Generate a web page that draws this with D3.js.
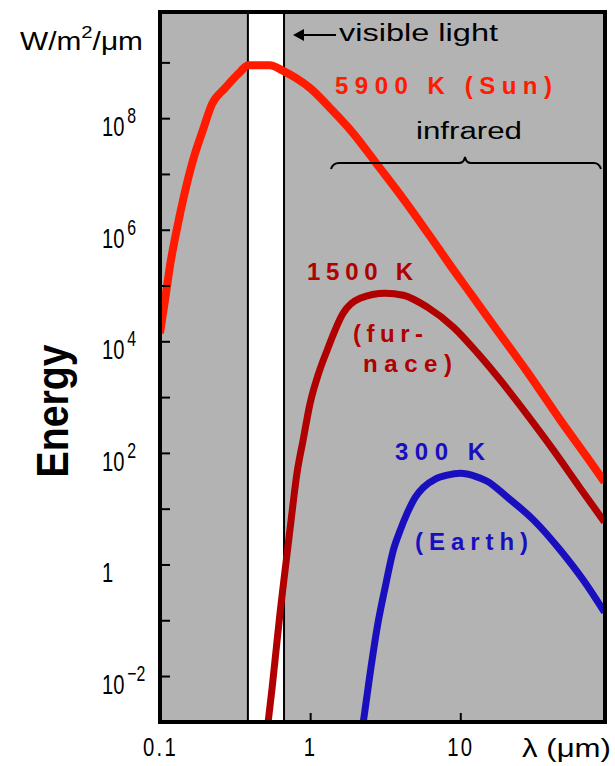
<!DOCTYPE html>
<html>
<head>
<meta charset="utf-8">
<script src="https://cdn.jsdelivr.net/npm/d3@7/dist/d3.min.js"></script>
<style>
body { margin: 0; background: #fff; }
text { font-family: "Liberation Sans", Arial, sans-serif; }
</style>
</head>
<body>
<script>
// wavelength in micrometres, energy in W/m2/um
var sunWave   = [0.1, 0.108, 0.117, 0.130, 0.145, 0.166, 0.193, 0.222, 0.271, 0.341, 0.386, 0.541, 0.651, 0.807, 1.0, 1.36, 1.93, 2.75, 4.23, 6.41, 8.58, 11.66, 16.6, 28.0, 46.4, 77.0, 91.2];
var sunEnergy = [1.4e4, 5.5e4, 2.4e5, 1.07e6, 4.2e6, 1.77e7, 6.1e7, 1.78e8, 3.45e8, 6.7e8, 8.9e8, 8.9e8, 7.2e8, 5.2e8, 3.45e8, 1.51e8, 5.4e7, 1.56e7, 3.4e6, 7.1e5, 2.3e5, 7.3e4, 1.95e4, 2.8e3, 387, 58, 30];

var furnaceWave   = [0.525, 0.558, 0.593, 0.631, 0.681, 0.736, 0.819, 0.898, 1.0, 1.13, 1.30, 1.66, 2.15, 3.16, 4.17, 6.03, 8.98, 13.0, 18.5, 28.0, 41.7, 63.1, 91.2];
var furnaceEnergy = [1.5e-3, 6.1e-3, 2.9e-2, 0.14, 0.79, 4.5, 45, 170, 780, 2.5e3, 7.0e3, 3.2e4, 5.9e4, 7.3e4, 6.7e4, 4.1e4, 1.8e4, 6.2e3, 2.0e3, 475, 112, 23, 5.8];

var earthWave   = [2.26, 2.51, 2.80, 3.16, 3.58, 3.98, 4.43, 5.01, 5.67, 6.81, 8.19, 10, 12.6, 15.1, 20.6, 30.7, 46.4, 66.1, 91.2];
var earthEnergy = [1.5e-3, 1.13e-2, 7.6e-2, 0.39, 1.8, 4.1, 8.3, 16, 24, 34, 40, 43, 38, 31, 16, 6.3, 1.8, 0.52, 0.14];

var visibleBand = [0.385, 0.67];
var yTicks = [1e-2, 1e-1, 1, 1e1, 1e2, 1e3, 1e4, 1e5, 1e6, 1e7, 1e8, 1e9];
var yLabelExps = [-2, 0, 2, 4, 6, 8];
var xTicks = [0.1, 1, 10];
var xTickLabels = ["0.1", "1", "10"];

var svg = d3.select("body").append("svg")
    .attr("width", 615)
    .attr("height", 766);

var x = d3.scaleLog().domain([0.1, 92]).range([160, 605]);
var y = d3.scaleLog().domain([1.5e-3, 8e9]).range([722, 12]);

// plot background
svg.append("rect")
    .attr("x", 160).attr("y", 12)
    .attr("width", 445).attr("height", 710)
    .attr("fill", "#b3b3b3");

// visible light band
svg.append("rect")
    .attr("x", x(visibleBand[0])).attr("y", 12)
    .attr("width", x(visibleBand[1]) - x(visibleBand[0]))
    .attr("height", 710)
    .attr("fill", "#fff");
svg.selectAll("line.band")
    .data(visibleBand)
    .enter().append("line")
    .attr("class", "band")
    .attr("x1", function(d) { return x(d); })
    .attr("x2", function(d) { return x(d); })
    .attr("y1", 12).attr("y2", 722)
    .attr("stroke", "#000").attr("stroke-width", 2);

svg.append("clipPath").attr("id", "plotclip")
    .append("rect").attr("x", 160).attr("y", 12).attr("width", 445).attr("height", 710);

var line = d3.line()
    .curve(d3.curveMonotoneX)
    .x(function(d) { return x(d[0]); })
    .y(function(d) { return y(d[1]); });

var curves = [
    {pts: d3.zip(sunWave, sunEnergy), color: "#ff1a00", w: 8},
    {pts: d3.zip(furnaceWave, furnaceEnergy), color: "#b00000", w: 7},
    {pts: d3.zip(earthWave, earthEnergy), color: "#1a0fbf", w: 7}
];

svg.append("g").attr("clip-path", "url(#plotclip)")
    .selectAll("path")
    .data(curves)
    .enter().append("path")
    .attr("d", function(d) { return line(d.pts); })
    .attr("fill", "none")
    .attr("stroke", function(d) { return d.color; })
    .attr("stroke-width", function(d) { return d.w; })
    .attr("stroke-linejoin", "round");

// ticks (inward)
var yAxis = svg.append("g")
    .attr("transform", "translate(160,0)")
    .call(d3.axisLeft(y).tickValues(yTicks).tickSize(-10).tickFormat(""));
yAxis.select(".domain").remove();
yAxis.selectAll(".tick line").attr("stroke-width", 2);

var xAxis = svg.append("g")
    .attr("transform", "translate(0,722)")
    .call(d3.axisBottom(x).tickValues(xTicks).tickSize(-9).tickPadding(16)
        .tickFormat(function(d, i) { return xTickLabels[i]; }));
xAxis.select(".domain").remove();
xAxis.selectAll(".tick line").attr("stroke-width", 2);
xAxis.selectAll(".tick text")
    .attr("font-size", 26)
    .attr("font-family", "Liberation Sans, sans-serif")
    .attr("letter-spacing", 3)
    .attr("fill", "#000")
    .attr("transform", "scale(0.78,1)");

// y labels: 10 with superscript
yLabelExps.forEach(function(e) {
    var t = svg.append("text")
        .attr("transform", "translate(102," + (y(Math.pow(10, e)) + 18) + ") scale(0.72,1)")
        .attr("font-size", 28)
        .attr("fill", "#000");
    if (e === 0) {
        t.text("1");
    } else {
        t.append("tspan").text("10");
        t.append("tspan").attr("dx", 4).attr("dy", -13).attr("font-size", 22).text(String(e).replace("-", "\u2212"));
    }
});

// border
svg.append("rect")
    .attr("x", 160).attr("y", 12)
    .attr("width", 445).attr("height", 710)
    .attr("fill", "none")
    .attr("stroke", "#000").attr("stroke-width", 4);

// unit label
var unit = svg.append("text")
    .attr("x", 20).attr("y", 50)
    .attr("font-size", 25)
    .attr("textLength", 123).attr("lengthAdjust", "spacingAndGlyphs");
unit.append("tspan").text("W/m");
unit.append("tspan").attr("dy", -12).attr("font-size", 17).text("2");
unit.append("tspan").attr("dy", 12).text("/\u03bcm");

svg.append("text")
    .attr("transform", "translate(68,411) rotate(-90)")
    .attr("text-anchor", "middle")
    .attr("font-family", "DejaVu Sans, sans-serif")
    .attr("font-weight", "bold")
    .attr("font-size", 44)
    .attr("textLength", 133).attr("lengthAdjust", "spacingAndGlyphs")
    .text("Energy");

svg.append("text")
    .attr("x", 522).attr("y", 757)
    .attr("font-size", 26)
    .attr("textLength", 89).attr("lengthAdjust", "spacingAndGlyphs")
    .text("\u03bb (\u03bcm)");

// visible light arrow
svg.append("line")
    .attr("x1", 300).attr("x2", 336).attr("y1", 35).attr("y2", 35)
    .attr("stroke", "#000").attr("stroke-width", 2);
svg.append("path")
    .attr("d", "M293,35 L304,29 L304,41 Z")
    .attr("fill", "#000");
svg.append("text")
    .attr("x", 339).attr("y", 41)
    .attr("font-size", 23)
    .attr("textLength", 159).attr("lengthAdjust", "spacingAndGlyphs")
    .text("visible light");

svg.append("text")
    .attr("x", 416).attr("y", 139)
    .attr("font-size", 23)
    .attr("textLength", 106).attr("lengthAdjust", "spacingAndGlyphs")
    .text("infrared");
svg.append("path")
    .attr("d", "M331,169 Q333,163 339,163 L459,163 Q464,163 465,157 Q466,163 471,163 L594,163 Q599,163 601,169")
    .attr("fill", "none").attr("stroke", "#000").attr("stroke-width", 2);

// curve labels
var labels = [
    {t: "5900 K (Sun)", x: 335, y: 94, w: 217, c: "#ff1a00"},
    {t: "1500 K", x: 307, y: 280, w: 106, c: "#b00000"},
    {t: "(fur-", x: 353, y: 342, w: 70, c: "#b00000"},
    {t: "nace)", x: 363, y: 372, w: 89, c: "#b00000"},
    {t: "300 K", x: 395, y: 460, w: 90, c: "#1a0fbf"},
    {t: "(Earth)", x: 415, y: 550, w: 113, c: "#1a0fbf"}
];
svg.selectAll("text.lab")
    .data(labels)
    .enter().append("text")
    .attr("class", "lab")
    .attr("x", function(d) { return d.x; })
    .attr("y", function(d) { return d.y; })
    .attr("font-size", 24)
    .attr("font-weight", "bold")
    .attr("fill", function(d) { return d.c; })
    .attr("textLength", function(d) { return d.w; })
    .attr("lengthAdjust", "spacing")
    .text(function(d) { return d.t; });
</script>
</body>
</html>
